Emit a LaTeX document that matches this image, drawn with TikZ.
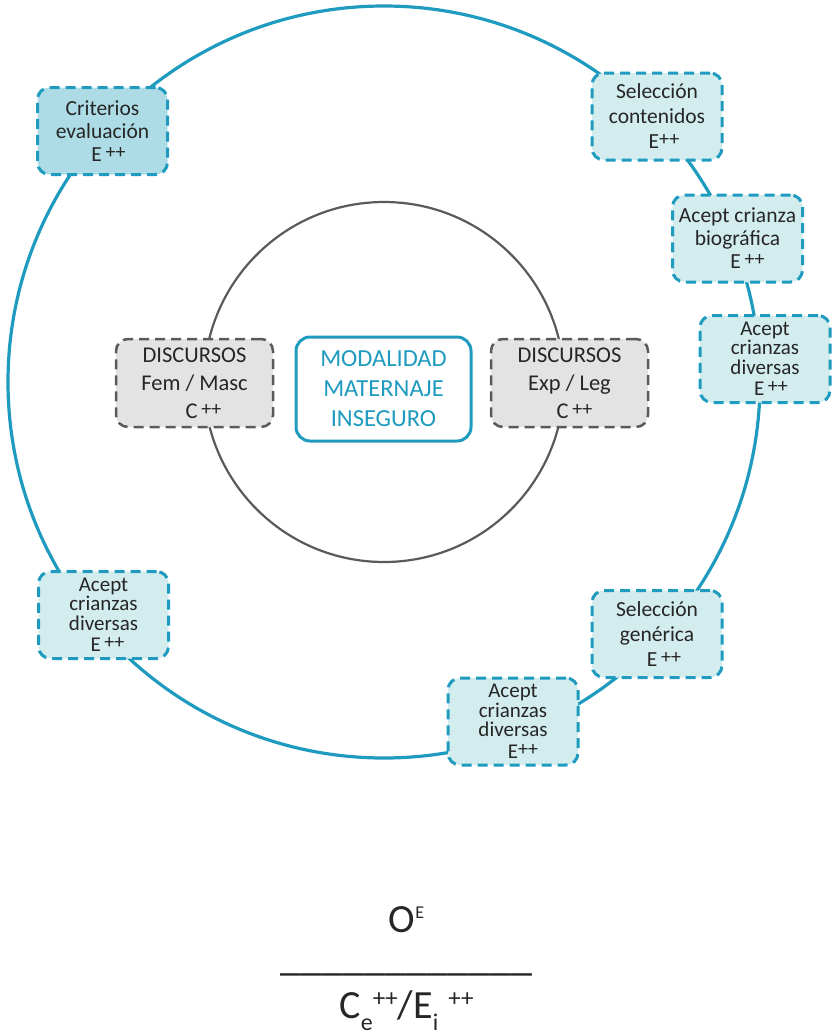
\documentclass[tikz,border=0pt]{standalone}
\usepackage{fontspec}
\setmainfont{Carlito}
\usepackage{xcolor}
\usetikzlibrary{positioning}
\definecolor{lineteal}{HTML}{1E9BBE}
\definecolor{boxfill}{HTML}{D3ECEE}
\definecolor{critfill}{HTML}{ADDCE6}
\definecolor{greyline}{HTML}{5A5A5A}
\definecolor{greyfill}{HTML}{E3E3E3}
\definecolor{ink}{HTML}{262626}
\newcommand{\pp}{\raisebox{3pt}{\fontsize{20}{20}\selectfont ++}}

\begin{document}
\begin{tikzpicture}[x=1pt,y=-1pt,
  outerbox/.style={draw=lineteal,line width=3pt,dash pattern=on 10pt off 6pt,rounded corners=12pt,fill=boxfill,text=ink,align=center,minimum width=130pt,minimum height=87pt,inner sep=0pt,font=\fontsize{21.5}{23}\selectfont},
  greybox/.style={draw=greyline,line width=2.5pt,dash pattern=on 10pt off 6pt,rounded corners=12pt,fill=greyfill,text=ink,align=center,minimum width=157pt,minimum height=88pt,inner sep=0pt,font=\fontsize{22.5}{28}\selectfont},
  corebox/.style={draw=lineteal,line width=3pt,rounded corners=14pt,fill=white,text=lineteal,align=center,minimum width=175pt,minimum height=104pt,inner sep=0pt,font=\fontsize{24.5}{30}\selectfont}]
\useasboundingbox (0,0) rectangle (831,1034);
% the two rings
\draw[lineteal,line width=3.2pt] (384,382) circle [radius=376pt];
\draw[greyline,line width=2.2pt] (384,382) circle [radius=180pt];
% boxes on the outer ring
\node[outerbox,fill=critfill] (crit) at (102.5,131) {Criterios\\evaluación\\\hspace*{12pt}E\,\pp};
\node[outerbox,font=\fontsize{21.5}{25}\selectfont] (selcont) at (657,116.5) {Selección\\contenidos\\\hspace*{14pt}E\pp};
\node[outerbox] (biog) at (737.5,238.5) {Acept crianza\\biográfica\\\hspace*{20pt}E\,\pp};
\node[outerbox,font=\fontsize{21}{19.5}\selectfont] (divright) at (765,359) {Acept\\crianzas\\diversas\\[2pt]\hspace*{12pt}E\,\pp};
\node[outerbox,font=\fontsize{21.5}{25}\selectfont] (selgen) at (657,634) {Selección\\genérica\\\hspace*{14pt}E\,\pp};
\node[outerbox,font=\fontsize{21}{19.5}\selectfont] (divbot) at (513,721.5) {Acept\\crianzas\\diversas\\[2pt]\hspace*{20pt}E\pp};
\node[outerbox,font=\fontsize{21}{19.5}\selectfont] (divleft) at (103.5,615) {Acept\\crianzas\\diversas\\[2pt]\hspace*{8pt}E\,\pp};
% inner ring
\node[greybox] (fem) at (194.5,383) {DISCURSOS\\Fem / Masc\\\hspace*{18pt}C\,\pp};
\node[greybox] (exp) at (569.5,383) {DISCURSOS\\Exp / Leg\\\hspace*{10pt}C\,\pp};
\node[corebox] (core) at (383.5,389) {MODALIDAD\\MATERNAJE\\INSEGURO};
% formula
\node[anchor=base,text=ink,font=\fontsize{40}{40}\selectfont,inner sep=0pt] (top) at (406.5,932) {O\raisebox{14pt}{\fontsize{18}{18}\selectfont E}};
\node[anchor=base,text=ink,font=\fontsize{42}{42}\selectfont,inner sep=0pt] (bar) at (406.5,970) {\_\_\_\_\_\_\_\_\_\_\_\_};
\node[anchor=base,text=ink,font=\fontsize{40}{40}\selectfont,inner sep=0pt] (bottom) at (406.5,1018) {C\raisebox{-12pt}{\fontsize{24}{24}\selectfont e}\raisebox{12pt}{\fontsize{25}{25}\selectfont ++}/E\raisebox{-12pt}{\fontsize{24}{24}\selectfont i}\hspace{10pt}\raisebox{12pt}{\fontsize{25}{25}\selectfont ++}};
\end{tikzpicture}
\end{document}
